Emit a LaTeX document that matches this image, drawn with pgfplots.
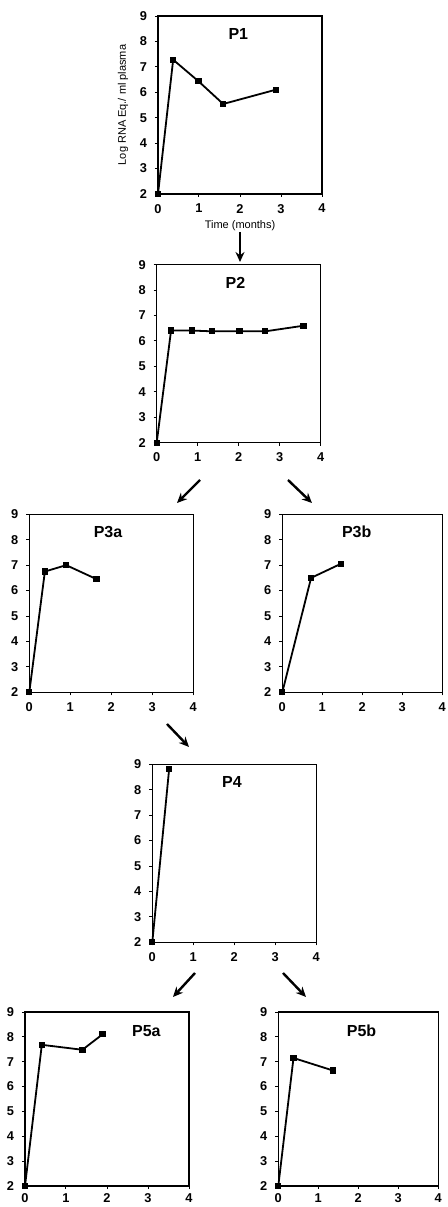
\documentclass[border=0pt]{standalone}
\usepackage{pgfplots}
\pgfplotsset{compat=1.18}
\usepackage{fontspec}
\setmainfont{Liberation Sans}
\usetikzlibrary{arrows.meta}

\pgfplotsset{
  panel/.style={
    scale only axis, width=82pt, height=89pt,
    xmin=0, xmax=4, ymin=2, ymax=9,
    xtick={0,1,2,3,4}, ytick={2,3,4,5,6,7,8,9},
    tick pos=left, tick align=outside, major tick length=1.5pt,
    axis line style={line width=0.75pt},
    every tick/.style={black, line width=0.5pt},
    tick label style={font=\bfseries\fontsize{6.4}{7}\selectfont},
    yticklabel style={xshift=-0.5pt},
    /pgf/number format/assume math mode=true,
    clip=false, anchor=south west,
  },
  dat/.style={black, line width=0.9pt, mark=square*, mark size=1.1pt, mark options={solid}},
}
\tikzset{
  ttl/.style={font=\bfseries\fontsize{8}{9}\selectfont},
  arr/.style={line width=1.2pt, -{Stealth[length=5pt, width=4.5pt]}},
}

\begin{document}
\begin{tikzpicture}
\path[use as bounding box] (0,0) rectangle (223.5pt,603.5pt);

% P1
\begin{axis}[panel, at={(79pt,506.5pt)},
  ylabel={Log RNA Eq./ ml plasma},
  xlabel={Time (months)},
  label style={font=\fontsize{5.5}{6}\selectfont},
  ylabel style={yshift=-1pt},
  xlabel style={yshift=3pt}]
\addplot[dat] coordinates {(0,2) (0.37,7.28) (0.99,6.43) (1.59,5.54) (2.87,6.1)};
\node[ttl] at (rel axis cs:0.49,0.9) {P1};
\end{axis}

% P2
\begin{axis}[panel, at={(78.35pt,382.15pt)}]
\addplot[dat] coordinates {(0,2) (0.35,6.41) (0.86,6.41) (1.35,6.38) (2.02,6.38) (2.65,6.38) (3.58,6.6)};
\node[ttl] at (rel axis cs:0.48,0.9) {P2};
\end{axis}

% P3a
\begin{axis}[panel, at={(14.65pt,257.35pt)}]
\addplot[dat] coordinates {(0,2) (0.38,6.75) (0.9,7.0) (1.64,6.45)};
\node[ttl] at (rel axis cs:0.48,0.9) {P3a};
\end{axis}

% P3b
\begin{axis}[panel, at={(141.15pt,257.35pt)}, width=80pt]
\addplot[dat] coordinates {(0,2) (0.72,6.5) (1.46,7.05)};
\node[ttl] at (rel axis cs:0.465,0.9) {P3b};
\end{axis}

% P4
\begin{axis}[panel, at={(76.15pt,132.35pt)}]
\addplot[dat] coordinates {(0,2) (0.41,8.8)};
\node[ttl] at (rel axis cs:0.486,0.9) {P4};
\end{axis}

% P5a
\begin{axis}[panel, at={(12.5pt,10.5pt)}, height=87pt, xticklabel style={yshift=1.2pt}]
\addplot[dat] coordinates {(0,2) (0.41,7.68) (1.4,7.48) (1.89,8.1)};
\node[ttl] at (rel axis cs:0.74,0.89) {P5a};
\end{axis}

% P5b
\begin{axis}[panel, at={(139.15pt,10.5pt)}, width=80pt, height=87pt, xticklabel style={yshift=1.2pt}]
\addplot[dat] coordinates {(0,2) (0.38,7.15) (1.36,6.65)};
\node[ttl] at (rel axis cs:0.52,0.89) {P5b};
\end{axis}

% arrows
\draw[arr] (120pt,487.5pt) -- (120pt,472.5pt);
\draw[arr] (100pt,363.5pt) -- (88.5pt,352pt);
\draw[arr] (144pt,363.5pt) -- (156pt,352pt);
\draw[arr] (83.5pt,241.5pt) -- (94.5pt,230pt);
\draw[arr] (97.5pt,117pt) -- (86.5pt,105pt);
\draw[arr] (141.5pt,117pt) -- (153pt,105pt);
\end{tikzpicture}
\end{document}
